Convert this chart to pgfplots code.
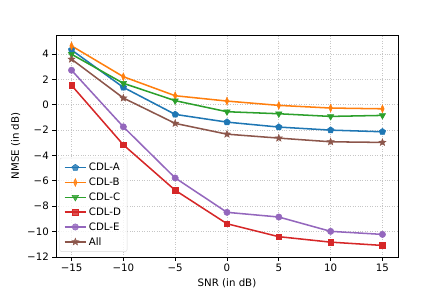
\documentclass[border=0pt]{standalone}
\usepackage{pgfplots}
\pgfplotsset{compat=1.18}
\usepackage{fontspec}
\setmainfont{DejaVu Sans}
\usetikzlibrary{plotmarks}
\definecolor{cA}{HTML}{1F77B4}
\definecolor{cB}{HTML}{FF7F0E}
\definecolor{cC}{HTML}{2CA02C}
\definecolor{cD}{HTML}{D62728}
\definecolor{cE}{HTML}{9467BD}
\definecolor{cF}{HTML}{8C564B}
\pgfdeclareplotmark{fstar}{%
  \pgfpathmoveto{\pgfpointpolar{90}{\pgfplotmarksize}}%
  \pgfpathlineto{\pgfpointpolar{126}{0.42\pgfplotmarksize}}%
  \pgfpathlineto{\pgfpointpolar{162}{\pgfplotmarksize}}%
  \pgfpathlineto{\pgfpointpolar{198}{0.42\pgfplotmarksize}}%
  \pgfpathlineto{\pgfpointpolar{234}{\pgfplotmarksize}}%
  \pgfpathlineto{\pgfpointpolar{270}{0.42\pgfplotmarksize}}%
  \pgfpathlineto{\pgfpointpolar{306}{\pgfplotmarksize}}%
  \pgfpathlineto{\pgfpointpolar{342}{0.42\pgfplotmarksize}}%
  \pgfpathlineto{\pgfpointpolar{18}{\pgfplotmarksize}}%
  \pgfpathlineto{\pgfpointpolar{54}{0.42\pgfplotmarksize}}%
  \pgfpathclose
  \pgfusepathqfillstroke
}
\begin{document}
\begin{tikzpicture}
\useasboundingbox (-54.6bp,-37.05bp) rectangle (377.4bp,250.6bp);
\begin{axis}[
  scale only axis,
  width=333.5bp, height=216.5bp,
  at={(0,0)}, anchor=south west,
  xmin=-16.5, xmax=16.5, ymin=-12, ymax=5.5,
  xtick={-15,-10,-5,0,5,10,15},
  xticklabels={−15,−10,−5,0,5,10,15},
  ytick={-12,-10,-8,-6,-4,-2,0,2,4},
  yticklabels={−12,−10,−8,−6,−4,−2,0,2,4},
  tick align=outside, major tick length=3.5pt,
  xtick pos=lower, ytick pos=left,
  grid=major,
  grid style={dotted, line width=0.8pt, gray!45},
  axis line style={line width=0.8pt},
  tick style={line width=0.8pt, black},
  ticklabel style={font=\fontsize{10}{12}\selectfont},
  label style={font=\fontsize{10}{12}\selectfont},
  xlabel={SNR (in dB)}, ylabel={NMSE (in dB)},
  legend style={at={(0,0)}, anchor=south west, xshift=3.5pt, yshift=5pt,
    draw=black!15, rounded corners=2pt, fill=white, fill opacity=0.8, text opacity=1,
    font=\fontsize{10}{12}\selectfont, row sep=1.6pt, inner xsep=4pt, inner ysep=3pt,
    /tikz/every even column/.append style={column sep=0pt}},
  legend cell align=left,
  every axis plot/.append style={line width=1.5pt, mark options={solid},
    legend image code/.code={%
      \draw[line width=1.5pt, mark repeat=2, mark phase=2] plot coordinates {(0pt,0pt) (10.5pt,0pt) (21pt,0pt)};}},
]
\addplot[color=cA, mark=pentagon*, mark size=3.3pt, mark options={line width=0.5pt}] coordinates {(-15,4.32) (-10,1.37) (-5,-0.76) (0,-1.37) (5,-1.76) (10,-2.0) (15,-2.13)};
\addlegendentry{CDL-A}
\addplot[color=cB, mark=diamond*, mark size=3.8pt, mark options={xscale=0.6, line width=0.5pt}] coordinates {(-15,4.64) (-10,2.21) (-5,0.71) (0,0.29) (5,-0.05) (10,-0.26) (15,-0.32)};
\addlegendentry{CDL-B}
\addplot[color=cC, mark=triangle*, mark size=3.6pt, mark options={rotate=180, line width=0.5pt}] coordinates {(-15,3.98) (-10,1.69) (-5,0.32) (0,-0.55) (5,-0.71) (10,-0.92) (15,-0.84)};
\addlegendentry{CDL-C}
\addplot[color=cD, mark=square*, mark size=2.7pt, mark options={line width=0.5pt}] coordinates {(-15,1.53) (-10,-3.16) (-5,-6.74) (0,-9.38) (5,-10.4) (10,-10.83) (15,-11.09)};
\addlegendentry{CDL-D}
\addplot[color=cE, mark=*, mark size=3.1pt, mark options={line width=0.5pt}] coordinates {(-15,2.72) (-10,-1.74) (-5,-5.77) (0,-8.48) (5,-8.85) (10,-9.98) (15,-10.22)};
\addlegendentry{CDL-E}
\addplot[color=cF, mark=fstar, mark size=3.6pt, mark options={line width=0.5pt}] coordinates {(-15,3.59) (-10,0.53) (-5,-1.47) (0,-2.32) (5,-2.63) (10,-2.92) (15,-2.97)};
\addlegendentry{All}
\end{axis}
\end{tikzpicture}
\end{document}
